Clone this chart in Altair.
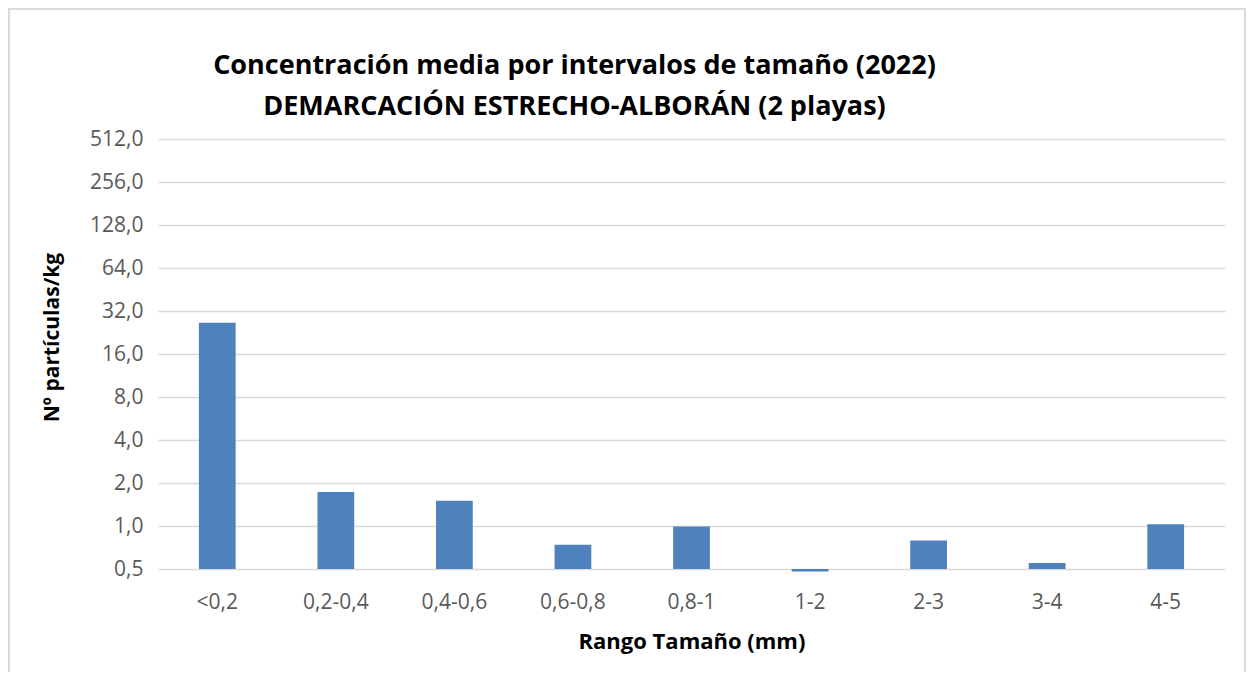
import altair as alt
import pandas as pd

categories = ["<0,2", "0,2-0,4", "0,4-0,6", "0,6-0,8", "0,8-1", "1-2", "2-3", "3-4", "4-5"]
values = [26.5, 1.73, 1.5, 0.74, 0.99, 0.48, 0.79, 0.55, 1.03]
y_ticks = [0.5, 1, 2, 4, 8, 16, 32, 64, 128, 256, 512]

title_lines = ["Concentración media por intervalos de tamaño (2022)",
               "DEMARCACIÓN ESTRECHO-ALBORÁN (2 playas)"]

df = pd.DataFrame({"rango": categories, "valor": values})

FONT = "Open Sans"

bars = alt.Chart(df).mark_bar(color="#4f81bd", clip=False).encode(
    x=alt.X("rango:N", sort=categories,
            scale=alt.Scale(paddingInner=0.69, paddingOuter=0.345),
            axis=alt.Axis(title="Rango Tamaño (mm)", labelAngle=0, ticks=False,
                          domain=False, labelPadding=22, labelFontSize=21,
                          labelColor="#595959", labelFont=FONT,
                          titleFont=FONT, titleFontSize=22, titleFontWeight="bold",
                          titleColor="#000000", titleY=72, titleBaseline="middle")),
    y=alt.Y("valor:Q",
            scale=alt.Scale(type="log", base=2, domain=[0.5, 512], nice=False),
            axis=alt.Axis(title="Nº partículas/kg", values=y_ticks,
                          labelExpr="replace(format(datum.value, '.1f'), '.', ',')",
                          ticks=False, domain=False, labelPadding=15,
                          labelFontSize=21, labelColor="#595959", labelFont=FONT,
                          grid=True, gridColor="#d9d9d9", gridWidth=1.5,
                          titleFont=FONT, titleFontSize=21, titleFontWeight="bold",
                          titleColor="#000000", titleX=-106, titleY=198,
                          titleAngle=-90, titleAlign="center", titleBaseline="middle")),
    y2=alt.datum(0.5),
)

frame = alt.Chart(df).mark_rect(fill=None, stroke="#d9d9d9", strokeWidth=1.5, clip=False).encode(
    x=alt.value(-149.2), x2=alt.value(1087), y=alt.value(-130.2), y2=alt.value(700)
)

chart = alt.layer(frame, bars).properties(
    width=1067, height=430,
    autosize=alt.AutoSizeParams(type="none"),
    padding={"left": 150, "top": 131, "right": 22, "bottom": 103},
    title=alt.TitleParams(title_lines, font=FONT, fontSize=27, fontWeight="bold",
                          color="#000000", anchor="middle", dx=-117, offset=0, dy=113,
                          lineHeight=41),
).configure_view(stroke=None)

chart.save("out.html", embed_options={"renderer": "svg", "actions": False})
